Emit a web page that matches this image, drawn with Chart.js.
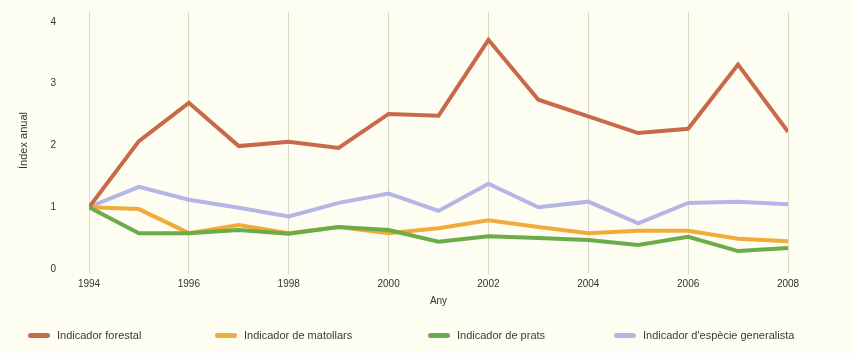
<!DOCTYPE html>
<html>
<head>
<meta charset="utf-8">
<script src="https://cdn.jsdelivr.net/npm/chart.js@4"></script>
<style>
  html, body { margin: 0; padding: 0; background: #fdfdf2; }
  #wrap { position: relative; width: 854px; height: 353px; }
  #legend { position: absolute; left: 0; top: 329px; width: 854px; height: 16px;
    font-family: "Liberation Sans", Arial, sans-serif; font-size: 11px; color: #3a3a3a; }
  .item { position: absolute; top: 0; display: flex; align-items: center; white-space: nowrap; }
  .swatch { display: inline-block; width: 22px; height: 5px; border-radius: 3px; margin-right: 7px; }
</style>
</head>
<body>
<div id="wrap">
  <canvas id="myChart" width="854" height="353"></canvas>
  <div id="legend"></div>
</div>
<script>
// anys i valors llegits del gràfic
const years = [1994, 1995, 1996, 1997, 1998, 1999, 2000, 2001, 2002, 2003, 2004, 2005, 2006, 2007, 2008];
const forestal    = [1.00, 2.07, 2.69, 1.99, 2.06, 1.96, 2.51, 2.48, 3.71, 2.74, 2.47, 2.20, 2.27, 3.31, 2.22];
const matollars   = [1.00, 0.97, 0.58, 0.71, 0.58, 0.68, 0.58, 0.66, 0.79, 0.68, 0.58, 0.62, 0.62, 0.49, 0.45];
const prats       = [1.00, 0.58, 0.58, 0.63, 0.57, 0.68, 0.63, 0.44, 0.53, 0.50, 0.47, 0.39, 0.52, 0.29, 0.34];
const generalista = [1.00, 1.33, 1.12, 0.99, 0.85, 1.07, 1.22, 0.94, 1.38, 1.00, 1.09, 0.74, 1.07, 1.09, 1.05];

const seriesNames = ["Indicador forestal", "Indicador de matollars", "Indicador de prats", "Indicador d'espècie generalista"];
const seriesColors = ["#c86a4a", "#f2aa3a", "#6bab4a", "#b5b5e6"];
const seriesData = [forestal, matollars, prats, generalista];
const seriesOrder = [2, 3, 1, 4];
const legendLeft = [28, 215, 428, 614];

const yTicks = [0, 1, 2, 3, 4];

const font = "'Liberation Sans', Arial, sans-serif";

const datasets = seriesData.map((vals, i) => ({
  label: seriesNames[i],
  data: years.map((y, j) => ({ x: y, y: vals[j] })),
  borderColor: seriesColors[i],
  backgroundColor: seriesColors[i],
  borderWidth: 4,
  pointRadius: 0,
  tension: 0,
  order: seriesOrder[i],
}));

const ctx = document.getElementById("myChart");
new Chart(ctx, {
  type: "line",
  data: { datasets: datasets },
  options: {
    responsive: false,
    animation: false,
    layout: { padding: { left: 17, right: 66, top: 12, bottom: 42 } },
    plugins: { legend: { display: false }, tooltip: { enabled: false } },
    scales: {
      x: {
        type: "linear",
        min: years[0],
        max: years[years.length - 1],
        afterFit: (scale) => { scale.height = 42; },
        ticks: {
          stepSize: 2,
          padding: 4,
          color: "#333",
          font: { family: font, size: 10 },
          maxRotation: 0,
          callback: (v) => String(v),
        },
        grid: { color: "#d9d9c2", lineWidth: 1, tickLength: 5, drawTicks: true },
        border: { display: false },
        title: { display: true, text: "Any", color: "#333", font: { family: font, size: 10 }, padding: { top: 6 } },
      },
      y: {
        min: 0,
        max: 4.16,
        afterFit: (scale) => { scale.width = 72; },
        afterBuildTicks: (scale) => { scale.ticks = yTicks.map((v) => ({ value: v })); },
        ticks: {
          padding: 3,
          color: "#333",
          font: { family: font, size: 10 },
        },
        grid: { display: true, drawOnChartArea: false, drawTicks: true, tickLength: 30, color: "rgba(0,0,0,0)" },
        border: { display: false },
        title: { display: true, text: "Índex anual", color: "#333", font: { family: font, size: 11 }, padding: 0 },
      },
    },
  },
});

// llegenda
const legend = document.getElementById("legend");
seriesNames.forEach((name, i) => {
  const item = document.createElement("div");
  item.className = "item";
  item.style.left = legendLeft[i] + "px";
  item.innerHTML = '<span class="swatch" style="background:' + seriesColors[i] + '"></span>' + name;
  legend.appendChild(item);
});
</script>
</body>
</html>
